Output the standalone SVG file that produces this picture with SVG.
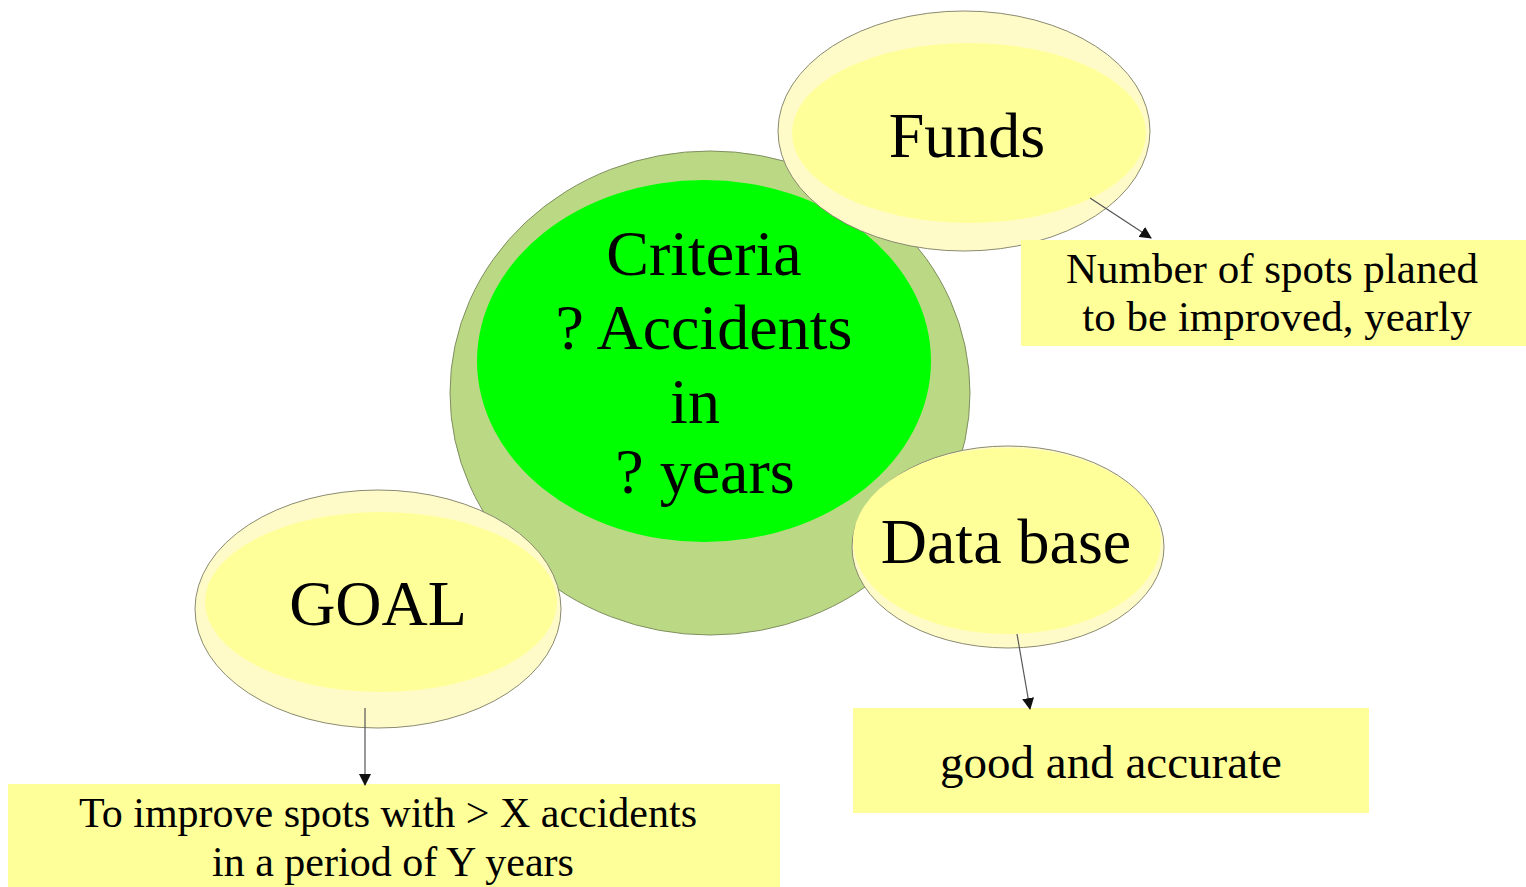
<svg xmlns="http://www.w3.org/2000/svg" width="1526" height="887" viewBox="0 0 1526 887">
<defs>
<style>
.t{font-family:"Liberation Serif","Times New Roman",serif;fill:#000;text-anchor:middle}
.big{font-size:64px}
.mid{font-size:42px}
.ring{fill:#fffbc9;stroke:#8a8a70;stroke-width:1}
.core{fill:#ffff99}
.box{fill:#ffff99}
.conn{stroke:#555;stroke-width:1.2;fill:none}
</style>
<marker id="ah" markerWidth="12" markerHeight="12" viewBox="0 0 12 12" refX="11" refY="6" orient="auto" markerUnits="userSpaceOnUse">
<path d="M0,0 L12,6 L0,12 Z" fill="#111"/>
</marker>
</defs>
<rect width="1526" height="887" fill="#fff"/>

<g id="criteria">
<ellipse cx="710" cy="393" rx="260" ry="242" fill="#bbd985" stroke="#7f8f60" stroke-width="1"/>
<ellipse cx="704" cy="361" rx="227" ry="181" fill="#00ff00"/>
<text class="t big" x="704" y="275">Criteria</text>
<text class="t big" x="704" y="349">? Accidents</text>
<text class="t big" x="695" y="423">in</text>
<text class="t big" x="705" y="493">? years</text>
</g>

<g id="funds">
<ellipse class="ring" cx="964" cy="131" rx="186" ry="120"/>
<ellipse class="core" cx="969" cy="133" rx="177" ry="90"/>
<text class="t big" x="967" y="157">Funds</text>
</g>

<g id="database">
<ellipse class="ring" cx="1008" cy="547" rx="156" ry="101"/>
<ellipse class="core" cx="1007" cy="541" rx="154" ry="93"/>
<text class="t big" x="1006" y="563">Data base</text>
</g>

<g id="goal">
<ellipse class="ring" cx="378" cy="609" rx="183" ry="119"/>
<ellipse class="core" cx="381" cy="602" rx="176" ry="90"/>
<text class="t big" x="378" y="625">GOAL</text>
</g>

<g id="funds-note">
<rect class="box" x="1021" y="240" width="505" height="106"/>
<text class="t mid" x="1272" y="283" style="font-size:43px">Number of spots planed</text>
<text class="t mid" x="1277" y="331" style="font-size:43px">to be improved, yearly</text>
</g>

<g id="database-note">
<rect class="box" x="853" y="708" width="516" height="105"/>
<text class="t" x="1111" y="778" style="font-size:47px">good and accurate</text>
</g>

<g id="goal-note">
<rect class="box" x="8" y="784" width="772" height="103"/>
<text class="t mid" x="388" y="827">To improve spots with &gt; X accidents</text>
<text class="t mid" x="393" y="876">in a period of Y years</text>
</g>

<g id="connectors">
<line class="conn" x1="1090" y1="198" x2="1151" y2="238" marker-end="url(#ah)"/>
<line class="conn" x1="1017" y1="634" x2="1030" y2="709" marker-end="url(#ah)"/>
<line class="conn" x1="365" y1="708" x2="365" y2="785" marker-end="url(#ah)"/>
</g>
</svg>
